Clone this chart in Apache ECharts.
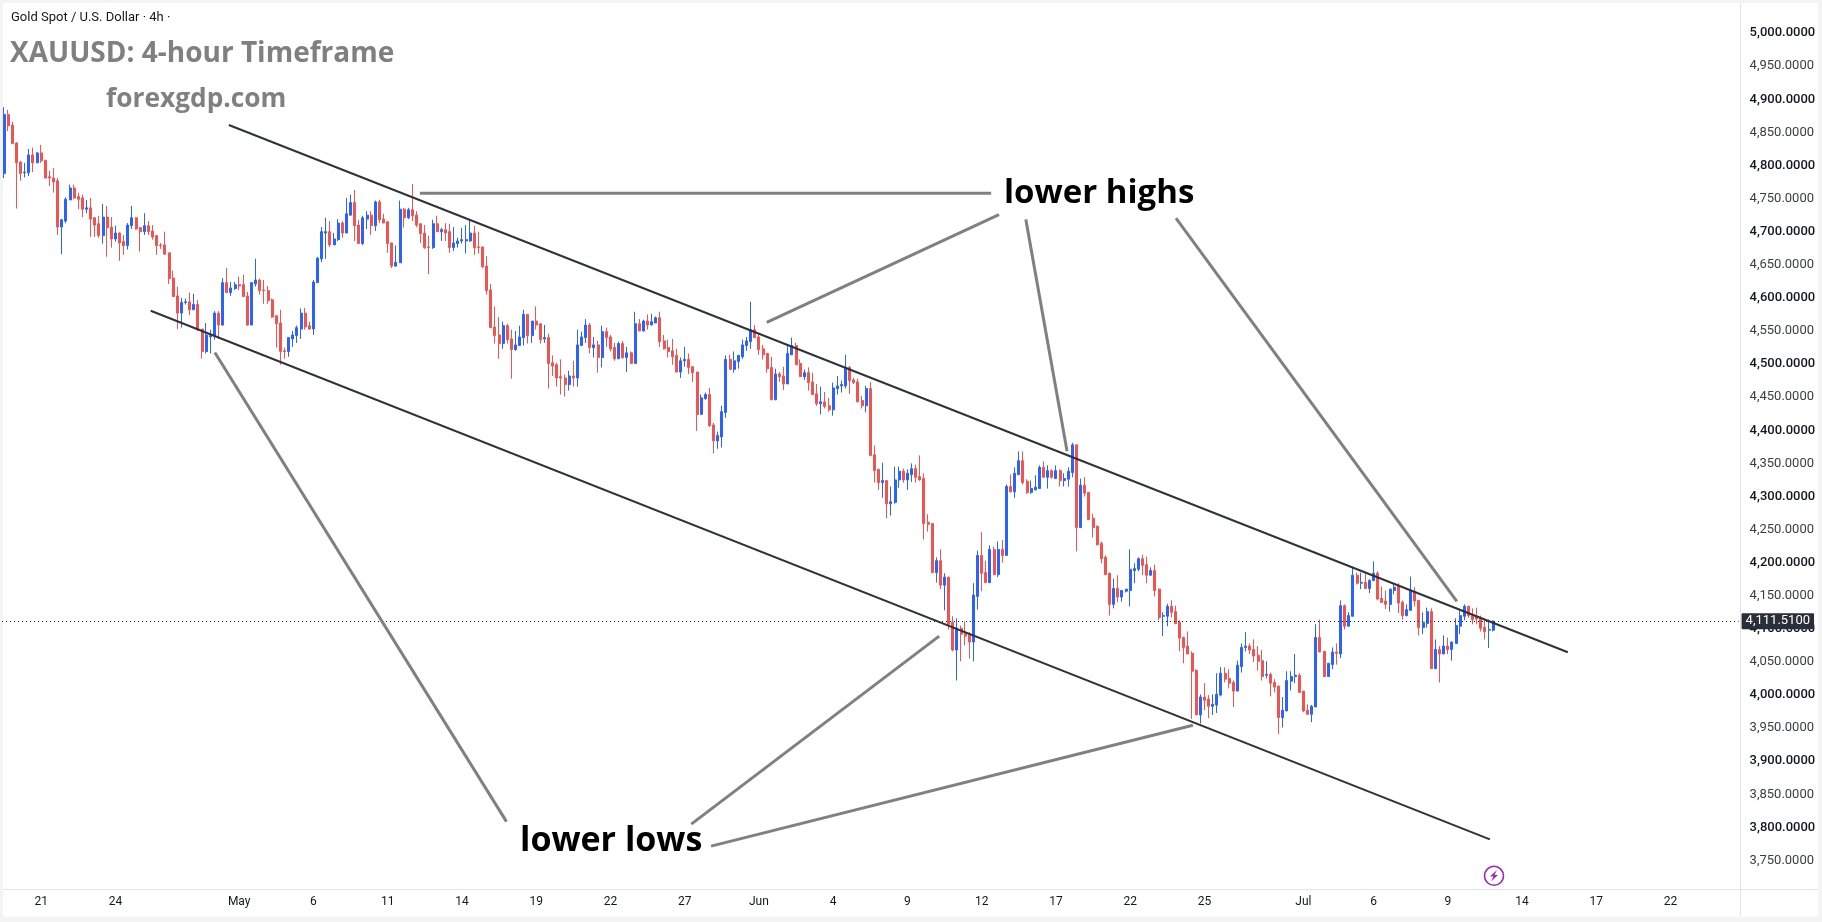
<!DOCTYPE html>
<html>
<head>
<meta charset="utf-8">
<title>XAUUSD 4-hour</title>
<script src="https://cdn.jsdelivr.net/npm/echarts@6/dist/echarts.min.js"></script>
<style>
  html, body { margin: 0; padding: 0; background: #f4f4f5; overflow: hidden; }
  #chart { width: 1822px; height: 922px; }
</style>
</head>
<body>
<div id="chart"></div>
<script>
// Gold spot 4h bars, oldest first.
const opens = [
  4788,4877,4861,4834,4805,4789,4789,4816,4804,4819,
  4808,4783,4781,4777,4707,4716,4748,4766,4753,4751,
  4734,4736,4721,4712,4694,4722,4707,4689,4698,4685,
  4679,4709,4721,4706,4700,4709,4701,4694,4680,4680,
  4668,4630,4603,4577,4593,4594,4582,4590,4553,4519,
  4541,4543,4577,4559,4623,4608,4614,4620,4620,4603,
  4559,4621,4627,4612,4611,4597,4573,4562,4520,4519,
  4538,4543,4553,4577,4558,4553,4623,4659,4698,4700,
  4680,4688,4713,4698,4725,4744,4710,4682,4719,4725,
  4709,4745,4719,4715,4683,4648,4653,4734,4721,4733,
  4725,4712,4698,4677,4676,4712,4700,4703,4700,4676,
  4682,4686,4686,4686,4698,4677,4677,4648,4612,4556,
  4544,4531,4558,4538,4522,4528,4540,4575,4543,4565,
  4561,4538,4540,4502,4499,4481,4479,4469,4482,4479,
  4528,4540,4559,4525,4529,4510,4549,4541,4525,4508,
  4531,4510,4517,4501,4561,4550,4565,4559,4562,4570,
  4535,4525,4520,4513,4488,4505,4507,4496,4488,4424,
  4448,4454,4408,4384,4390,4427,4507,4492,4504,4511,
  4528,4534,4552,4541,4523,4516,4495,4446,4485,4482,
  4470,4514,4528,4501,4481,4487,4473,4455,4440,4443,
  4437,4431,4463,4467,4467,4495,4476,4473,4445,4437,
  4463,4363,4341,4321,4324,4289,4291,4325,4338,4325,
  4333,4342,4330,4327,4261,4259,4185,4203,4166,4178,
  4110,4068,4101,4095,4092,4080,4149,4211,4185,4170,
  4220,4182,4220,4211,4315,4307,4333,4354,4323,4306,
  4310,4312,4344,4329,4339,4327,4339,4324,4326,4336,
  4378,4253,4317,4306,4267,4255,4229,4208,4184,4137,
  4161,4148,4157,4158,4188,4190,4206,4197,4181,4188,
  4160,4119,4119,4134,4126,4110,4087,4074,4063,4037,
  3970,3997,3994,3983,3985,4000,4033,4025,4019,4006,
  4043,4072,4074,4069,4060,4052,4030,4031,4019,4013,
  3966,3976,4021,4028,4030,4006,3977,3971,3982,4087,
  4066,4028,4046,4065,4062,4135,4104,4119,4181,4169,
  4170,4161,4173,4184,4146,4142,4137,4158,4166,4140,
  4120,4128,4157,4143,4102,4108,4126,4040,4069,4062,
  4074,4069,4078,4104,4119,4134,4120,4119,4116,4102,
  4098,4098
];
const closes = [
  4877,4860,4833,4804,4788,4790,4816,4804,4819,4807,
  4781,4781,4775,4707,4718,4749,4766,4751,4749,4734,
  4736,4719,4710,4694,4722,4706,4689,4698,4683,4679,
  4710,4721,4704,4700,4709,4700,4692,4679,4679,4666,
  4629,4602,4577,4593,4594,4582,4590,4552,4519,4544,
  4543,4577,4559,4623,4608,4615,4620,4618,4602,4559,
  4623,4627,4611,4611,4596,4571,4561,4519,4519,4540,
  4544,4555,4577,4556,4553,4624,4660,4700,4700,4680,
  4689,4713,4698,4727,4744,4709,4682,4721,4725,4709,
  4745,4718,4713,4682,4648,4654,4734,4721,4733,4724,
  4710,4697,4676,4676,4712,4700,4703,4698,4676,4683,
  4686,4688,4688,4698,4676,4676,4647,4611,4555,4543,
  4531,4558,4537,4522,4529,4541,4575,4543,4565,4559,
  4537,4540,4501,4497,4479,4479,4469,4482,4479,4529,
  4541,4559,4525,4529,4510,4549,4540,4523,4508,4531,
  4510,4517,4501,4561,4550,4565,4559,4564,4570,4534,
  4523,4519,4511,4488,4505,4507,4495,4487,4424,4449,
  4454,4407,4384,4392,4428,4507,4492,4505,4513,4529,
  4535,4552,4540,4522,4514,4493,4446,4485,4481,4470,
  4516,4528,4499,4481,4487,4472,4454,4440,4443,4436,
  4431,4464,4467,4469,4495,4475,4472,4443,4437,4463,
  4362,4339,4321,4324,4289,4292,4325,4338,4325,4335,
  4342,4329,4325,4259,4258,4185,4203,4166,4178,4107,
  4068,4101,4092,4089,4080,4151,4211,4184,4170,4220,
  4182,4220,4211,4315,4307,4335,4354,4321,4306,4312,
  4314,4344,4329,4339,4329,4339,4324,4327,4338,4378,
  4253,4317,4305,4265,4253,4227,4206,4182,4137,4161,
  4148,4158,4160,4190,4191,4206,4196,4181,4188,4158,
  4117,4120,4134,4125,4108,4086,4072,4062,4036,3970,
  3997,3992,3983,3986,4001,4033,4024,4018,4006,4045,
  4072,4074,4068,4059,4051,4028,4031,4018,4012,3966,
  3977,4022,4028,4030,4004,3976,3971,3983,4087,4065,
  4028,4048,4065,4063,4135,4104,4120,4181,4169,4170,
  4161,4173,4184,4145,4140,4137,4160,4163,4139,4120,
  4129,4158,4142,4102,4110,4126,4040,4069,4062,4074,
  4069,4080,4105,4120,4134,4120,4114,4115,4101,4096,
  4099,4111.51
];
const highs = [
  4888,4884,4866,4835,4807,4804,4825,4827,4820,4831,
  4808,4792,4796,4781,4719,4752,4771,4771,4759,4756,
  4748,4751,4722,4724,4742,4739,4722,4709,4699,4695,
  4713,4739,4722,4707,4728,4716,4710,4695,4683,4700,
  4668,4641,4617,4600,4599,4608,4606,4597,4553,4562,
  4552,4580,4580,4630,4645,4624,4624,4632,4635,4609,
  4624,4659,4629,4627,4618,4599,4574,4582,4525,4540,
  4550,4558,4584,4585,4564,4627,4662,4707,4721,4716,
  4698,4719,4716,4751,4756,4763,4718,4724,4731,4731,
  4747,4748,4727,4715,4683,4679,4747,4736,4736,4772,
  4731,4712,4710,4694,4718,4724,4706,4713,4712,4707,
  4691,4706,4710,4719,4709,4700,4677,4663,4621,4587,
  4571,4564,4561,4552,4550,4558,4582,4575,4565,4587,
  4561,4559,4546,4513,4502,4507,4484,4490,4505,4552,
  4549,4568,4562,4541,4535,4558,4555,4544,4532,4534,
  4535,4526,4519,4579,4568,4567,4575,4576,4572,4579,
  4544,4537,4538,4523,4510,4526,4516,4497,4488,4454,
  4457,4464,4411,4398,4437,4513,4514,4519,4514,4537,
  4541,4594,4559,4547,4529,4517,4511,4493,4488,4496,
  4528,4540,4532,4507,4492,4495,4487,4470,4466,4458,
  4449,4472,4482,4475,4514,4497,4479,4478,4452,4467,
  4473,4377,4341,4351,4324,4315,4345,4345,4342,4341,
  4350,4348,4362,4335,4273,4259,4208,4220,4184,4179,
  4119,4116,4105,4111,4095,4169,4218,4246,4203,4226,
  4224,4232,4234,4318,4333,4344,4368,4368,4326,4324,
  4332,4347,4353,4347,4341,4347,4341,4335,4344,4381,
  4378,4327,4329,4307,4274,4256,4232,4211,4185,4176,
  4181,4158,4160,4220,4199,4208,4212,4209,4193,4197,
  4161,4125,4138,4143,4135,4113,4088,4096,4066,4039,
  4001,4018,4000,4001,4033,4042,4042,4039,4022,4052,
  4078,4095,4078,4084,4074,4068,4051,4034,4024,4015,
  3997,4036,4036,4062,4033,4006,3986,3985,4107,4114,
  4066,4048,4072,4078,4143,4137,4125,4194,4185,4185,
  4185,4175,4202,4187,4164,4158,4160,4167,4169,4143,
  4137,4179,4163,4143,4125,4132,4131,4084,4074,4090,
  4087,4081,4116,4128,4137,4135,4131,4132,4120,4113,
  4114,4113
];
const lows = [
  4781,4852,4833,4735,4777,4782,4784,4790,4804,4804,
  4781,4769,4759,4695,4666,4713,4748,4749,4734,4722,
  4728,4692,4692,4691,4682,4662,4676,4685,4656,4665,
  4673,4704,4703,4670,4695,4695,4688,4665,4674,4666,
  4621,4602,4553,4555,4590,4574,4582,4550,4508,4516,
  4516,4537,4538,4558,4608,4603,4612,4612,4602,4558,
  4559,4617,4605,4591,4591,4570,4525,4499,4508,4511,
  4526,4532,4538,4552,4552,4544,4623,4654,4659,4677,
  4680,4686,4691,4698,4725,4686,4682,4680,4704,4695,
  4701,4713,4713,4668,4645,4647,4653,4706,4719,4716,
  4707,4683,4674,4636,4674,4700,4686,4686,4668,4671,
  4676,4682,4667,4685,4665,4667,4645,4605,4555,4531,
  4508,4523,4531,4478,4520,4528,4528,4531,4532,4552,
  4531,4532,4463,4482,4466,4454,4451,4460,4466,4466,
  4528,4532,4516,4510,4487,4495,4526,4519,4505,4508,
  4508,4488,4501,4501,4550,4549,4552,4559,4562,4526,
  4522,4510,4499,4487,4479,4496,4485,4473,4399,4424,
  4446,4405,4365,4372,4374,4419,4492,4487,4493,4508,
  4520,4523,4540,4514,4507,4487,4446,4446,4473,4461,
  4470,4514,4499,4481,4476,4460,4454,4437,4424,4433,
  4428,4422,4454,4457,4463,4455,4470,4442,4433,4427,
  4362,4321,4310,4298,4267,4271,4289,4313,4321,4310,
  4322,4321,4324,4235,4247,4184,4170,4160,4128,4099,
  4066,4022,4051,4075,4055,4051,4129,4157,4169,4169,
  4181,4178,4200,4211,4306,4298,4332,4318,4304,4304,
  4309,4312,4329,4312,4327,4327,4315,4315,4315,4329,
  4217,4253,4300,4265,4238,4226,4199,4181,4120,4131,
  4140,4141,4155,4134,4169,4187,4181,4169,4181,4149,
  4113,4089,4104,4117,4107,4066,4048,4062,3964,3970,
  3957,3977,3965,3970,3973,3998,4019,4010,3982,4006,
  4034,4066,4062,4050,4037,4022,4025,3998,4004,3941,
  3951,3976,4007,4018,4004,3974,3970,3959,3982,4065,
  4027,4028,4039,4046,4056,4099,4104,4119,4167,4160,
  4161,4154,4172,4143,4140,4130,4126,4152,4124,4114,
  4119,4128,4134,4090,4092,4102,4040,4039,4019,4062,
  4062,4052,4078,4092,4113,4117,4107,4107,4096,4084,
  4071,4096
];

const lastPrice = 4111.51;

// Bars reserved on the time scale, including the empty space after the last bar.
const totalBars = 421;

// Time-axis captions and the bar each one sits under.
const tickBars = [9, 27, 57, 75, 93, 111, 129, 147, 165, 183, 201, 219, 237, 255, 273, 291, 315, 332, 350, 368, 386, 404];
const tickTexts = ['21', '24', 'May', '6', '11', '14', '19', '22', '27', 'Jun', '4', '9', '12', '17', '22', '25', 'Jul', '6', '9', '14', '17', '22'];

const priceTicks = [5000, 4950, 4900, 4850, 4800, 4750, 4700, 4650, 4600, 4550, 4500, 4450, 4400, 4350, 4300, 4250, 4200, 4150, 4100, 4050, 4000, 3950, 3900, 3850, 3800, 3750];

// Channel boundaries as [bar, price] anchors.
const upperChannel = [[54.5, 4861.2], [379.1, 4064.6]];
const lowerChannel = [[35.55, 4580.6], [360.2, 3782]];

// Call-out strokes as [bar, price] anchors.
const calloutStrokes = [
  [[100.8, 4758.1], [239.3, 4758.1]],
  [[184.9, 4562.9], [241.2, 4725.7]],
  [[247.7, 4718.6], [257.7, 4368.3]],
  [[284.1, 4720.4], [352.2, 4141.5]],
  [[51.1, 4517.6], [121.8, 3808.8]],
  [[226.7, 4089.1], [166.6, 3805]],
  [[171.4, 3771.8], [288.2, 3954.4]]
];

const chart = echarts.init(document.getElementById('chart'), null, { renderer: 'canvas' });

const captionByBar = new Map(tickBars.map((bar, i) => [bar, tickTexts[i]]));
const slots = Array.from({ length: totalBars }, (_, i) => String(i));
const bars = opens.map((o, i) => [o, closes[i], lows[i], highs[i]]);
const formatPrice = v => v.toLocaleString('en-US', { minimumFractionDigits: 4, maximumFractionDigits: 4 });

const overlay = (data, color, width) => ({
  type: 'line',
  xAxisIndex: 1,
  data,
  showSymbol: false,
  silent: true,
  clip: false,
  z: 5,
  lineStyle: { color, width, cap: 'butt' }
});

const uiFont = 'Roboto, "Liberation Sans", sans-serif';
const noteFont = '"Open Sans", "Noto Sans", sans-serif';

chart.setOption({
  animation: false,
  backgroundColor: '#f4f4f5',
  grid: { left: 2, width: 1736.6, top: -1.14, height: 894.78, containLabel: false },
  xAxis: [
    {
      type: 'category',
      data: slots,
      offset: -4.6,
      axisLine: { show: false },
      axisTick: { show: false },
      splitLine: { show: false },
      axisLabel: {
        interval: i => captionByBar.has(i),
        formatter: (v, i) => captionByBar.get(i) || '',
        color: '#131722',
        fontFamily: uiFont,
        fontSize: 12,
        margin: 7
      }
    },
    { type: 'value', min: -0.5, max: totalBars - 0.5, show: false }
  ],
  yAxis: {
    type: 'value',
    position: 'right',
    min: 3700,
    max: 5050,
    scale: true,
    axisLine: { show: false },
    axisTick: { show: false },
    splitLine: { show: false },
    axisLabel: {
      customValues: priceTicks,
      margin: 11,
      fontFamily: uiFont,
      fontSize: 13,
      formatter: v => (v % 100 === 0 ? '{major|' : '{minor|') + formatPrice(v) + '}',
      rich: {
        major: { color: '#131722', fontFamily: uiFont, fontSize: 13, fontWeight: 500 },
        minor: { color: '#3a3d47', fontFamily: uiFont, fontSize: 13 }
      }
    }
  },
  series: [
    {
      type: 'candlestick',
      data: bars,
      // 2.5 snaps every body to the same pixel width once the 1px border is added
      barWidth: 2.5,
      z: 3,
      itemStyle: {
        color: '#2962ff',
        color0: '#f05350',
        borderColor: '#2962ff',
        borderColor0: '#f05350',
        borderWidth: 1
      },
      markLine: {
        silent: true,
        symbol: 'none',
        precision: 4,
        animation: false,
        lineStyle: { color: '#131722', width: 1, type: [1, 3] },
        label: {
          position: 'end',
          distance: 3,
          formatter: () => formatPrice(lastPrice),
          color: '#ffffff',
          backgroundColor: '#2a2e39',
          fontFamily: uiFont,
          fontSize: 13,
          padding: [2, 4, 1, 4],
          borderRadius: 1
        },
        data: [{ yAxis: lastPrice }]
      }
    },
    overlay(upperChannel, '#2f3239', 2),
    overlay(lowerChannel, '#2f3239', 2),
    ...calloutStrokes.map(s => overlay(s, '#808080', 3))
  ],
  graphic: [
    { type: 'rect', z: -10, silent: true, shape: { x: 3, y: 3, width: 1815, height: 913.5 }, style: { fill: '#ffffff' } },
    { type: 'line', z: 1, silent: true, shape: { x1: 3, y1: 889.5, x2: 1818, y2: 889.5 }, style: { stroke: '#e0e3eb', lineWidth: 1 } },
    { type: 'line', z: 1, silent: true, shape: { x1: 1740.5, y1: 3, x2: 1740.5, y2: 916 }, style: { stroke: '#e0e3eb', lineWidth: 1 } },
    { type: 'text', z: 10, silent: true, x: 11, y: 18, style: { text: 'Gold Spot / U.S. Dollar · 4h ·', fill: '#131722', font: '13px ' + uiFont, textVerticalAlign: 'middle' } },
    { type: 'text', z: 10, silent: true, x: 10, y: 54, style: { text: 'XAUUSD: 4-hour Timeframe', fill: '#808080', font: '700 28px ' + noteFont, textVerticalAlign: 'middle' } },
    { type: 'text', z: 10, silent: true, x: 106, y: 100, style: { text: 'forexgdp.com', fill: '#808080', font: '700 26.3px ' + noteFont, textVerticalAlign: 'middle' } },
    { type: 'text', z: 10, silent: true, x: 1004, y: 194, style: { text: 'lower highs', fill: '#000000', font: '700 33px ' + noteFont, textVerticalAlign: 'middle' } },
    { type: 'text', z: 10, silent: true, x: 520, y: 841, style: { text: 'lower lows', fill: '#000000', font: '700 34px ' + noteFont, textVerticalAlign: 'middle' } },
    { type: 'circle', z: 10, silent: true, shape: { cx: 1494, cy: 875.8, r: 9.5 }, style: { fill: '#ffffff', stroke: '#9c27b0', lineWidth: 1.6 } },
    { type: 'polygon', z: 11, silent: true, shape: { points: [[1497, 870], [1490, 876.5], [1493.5, 876.5], [1491, 881.5], [1498, 875], [1494.5, 875]] }, style: { fill: '#9c27b0' } }
  ]
});
</script>
</body>
</html>
